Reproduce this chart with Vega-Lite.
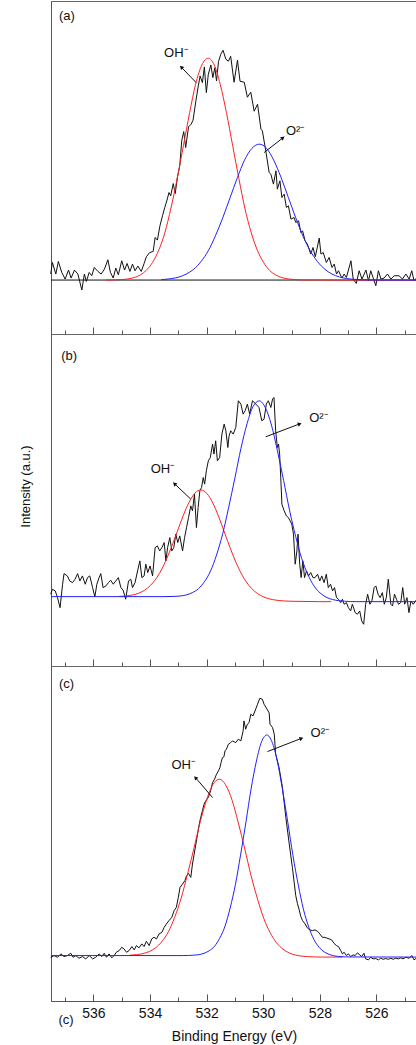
{
  "$schema": "https://vega.github.io/schema/vega-lite/v6.json",
  "background": "white",
  "padding": {"left": 18, "top": 0, "right": 0, "bottom": 2},
  "spacing": 0,
  "bounds": "flush",
  "config": {
    "view": {"stroke": "#666", "strokeWidth": 1},
    "font": "Liberation Sans",
    "axis": {"domainColor": "#555", "tickColor": "#555", "labelColor": "#111", "titleColor": "#111", "labelFont": "Liberation Sans", "titleFont": "Liberation Sans", "labelFontSize": 14, "titleFontSize": 14, "titleFontWeight": "normal", "grid": false},
    "text": {"font": "Liberation Sans", "fontSize": 13, "color": "#111"}
  },
  "datasets": {
    "a_exp": [
      {"energy":537.51,"intensity":6},{"energy":537.45,"intensity":17.6},{"energy":537.33,"intensity":6},{"energy":537.24,"intensity":18.6},{"energy":537.12,"intensity":7.6},{"energy":537.0,"intensity":1},{"energy":536.88,"intensity":10},{"energy":536.79,"intensity":2},{"energy":536.67,"intensity":10},{"energy":536.55,"intensity":6},{"energy":536.41,"intensity":-10},{"energy":536.32,"intensity":6},{"energy":536.25,"intensity":-1.4},{"energy":536.15,"intensity":7.6},{"energy":536.06,"intensity":4.3},{"energy":535.97,"intensity":12.6},{"energy":535.84,"intensity":8.6},{"energy":535.73,"intensity":6},{"energy":535.61,"intensity":11},{"energy":535.49,"intensity":20.3},{"energy":535.40,"intensity":7.6},{"energy":535.30,"intensity":2},{"energy":535.21,"intensity":12},{"energy":535.12,"intensity":5.3},{"energy":535.00,"intensity":19.3},{"energy":534.90,"intensity":10},{"energy":534.81,"intensity":16.6},{"energy":534.71,"intensity":8.6},{"energy":534.62,"intensity":16},{"energy":534.53,"intensity":9.3},{"energy":534.43,"intensity":14},{"energy":534.31,"intensity":8.6},{"energy":534.21,"intensity":16.6},{"energy":534.13,"intensity":23.3},{"energy":534.01,"intensity":27.6},{"energy":533.89,"intensity":28.6},{"energy":533.82,"intensity":42.6},{"energy":533.74,"intensity":40},{"energy":533.65,"intensity":54.3},{"energy":533.56,"intensity":64.3},{"energy":533.48,"intensity":72.6},{"energy":533.40,"intensity":80},{"energy":533.33,"intensity":87.6},{"energy":533.27,"intensity":84.3},{"energy":533.18,"intensity":96.6},{"energy":533.11,"intensity":86.6},{"energy":533.03,"intensity":103.3},{"energy":532.95,"intensity":114.3},{"energy":532.88,"intensity":139.3},{"energy":532.81,"intensity":148.6},{"energy":532.74,"intensity":132.6},{"energy":532.64,"intensity":153.3},{"energy":532.55,"intensity":156},{"energy":532.48,"intensity":160},{"energy":532.38,"intensity":179.3},{"energy":532.30,"intensity":193.3},{"energy":532.23,"intensity":204.3},{"energy":532.15,"intensity":197.6},{"energy":532.08,"intensity":213.3},{"energy":532.01,"intensity":187.6},{"energy":531.94,"intensity":206},{"energy":531.85,"intensity":215.3},{"energy":531.78,"intensity":202.6},{"energy":531.71,"intensity":212.6},{"energy":531.65,"intensity":199.3},{"energy":531.58,"intensity":218.6},{"energy":531.50,"intensity":226},{"energy":531.42,"intensity":230},{"energy":531.32,"intensity":221},{"energy":531.23,"intensity":219},{"energy":531.15,"intensity":224},{"energy":531.03,"intensity":198},{"energy":530.91,"intensity":220},{"energy":530.82,"intensity":199},{"energy":530.67,"intensity":198},{"energy":530.56,"intensity":183},{"energy":530.44,"intensity":188},{"energy":530.32,"intensity":169},{"energy":530.20,"intensity":176},{"energy":530.08,"intensity":151},{"energy":530.03,"intensity":149.3},{"energy":529.91,"intensity":129.3},{"energy":529.79,"intensity":107.6},{"energy":529.73,"intensity":106},{"energy":529.64,"intensity":96},{"energy":529.55,"intensity":109.3},{"energy":529.50,"intensity":91},{"energy":529.41,"intensity":99.3},{"energy":529.34,"intensity":82.6},{"energy":529.26,"intensity":86},{"energy":529.18,"intensity":72.6},{"energy":529.11,"intensity":74.3},{"energy":529.02,"intensity":61},{"energy":528.91,"intensity":62.6},{"energy":528.85,"intensity":57.6},{"energy":528.75,"intensity":59.3},{"energy":528.67,"intensity":47.6},{"energy":528.61,"intensity":49.3},{"energy":528.52,"intensity":39.3},{"energy":528.44,"intensity":36},{"energy":528.32,"intensity":26},{"energy":528.24,"intensity":32.6},{"energy":528.16,"intensity":23.3},{"energy":528.02,"intensity":42},{"energy":527.96,"intensity":26},{"energy":527.88,"intensity":27.6},{"energy":527.77,"intensity":17.6},{"energy":527.67,"intensity":22.6},{"energy":527.57,"intensity":12.6},{"energy":527.49,"intensity":16},{"energy":527.41,"intensity":6},{"energy":527.34,"intensity":9.3},{"energy":527.22,"intensity":2},{"energy":527.14,"intensity":6},{"energy":527.06,"intensity":2.6},{"energy":526.90,"intensity":19.3},{"energy":526.82,"intensity":1},{"energy":526.71,"intensity":-3.4},{"energy":526.61,"intensity":9.3},{"energy":526.51,"intensity":1},{"energy":526.37,"intensity":10},{"energy":526.28,"intensity":-0.7},{"energy":526.20,"intensity":9.3},{"energy":526.02,"intensity":-5.7},{"energy":525.93,"intensity":9.3},{"energy":525.84,"intensity":1},{"energy":525.73,"intensity":2},{"energy":525.61,"intensity":6},{"energy":525.49,"intensity":1},{"energy":525.37,"intensity":4.3},{"energy":525.20,"intensity":4.3},{"energy":525.08,"intensity":1},{"energy":524.96,"intensity":6},{"energy":524.84,"intensity":1},{"energy":524.75,"intensity":9.3},{"energy":524.67,"intensity":-0.7},{"energy":524.55,"intensity":3}
    ],
    "a_base": [{"energy":537.5,"intensity":0},{"energy":524.53,"intensity":0}],
    "a_oh": [
      {"energy":535.56,"intensity":0},{"energy":535.43,"intensity":0.1},{"energy":535.0,"intensity":0.5},{"energy":534.78,"intensity":1.1},{"energy":534.56,"intensity":2.5},{"energy":534.34,"intensity":5.1},{"energy":534.13,"intensity":9.8},{"energy":533.91,"intensity":17.7},{"energy":533.69,"intensity":30.0},{"energy":533.47,"intensity":48.0},{"energy":533.26,"intensity":72.1},{"energy":533.04,"intensity":101.6},{"energy":532.82,"intensity":134.6},{"energy":532.60,"intensity":167.6},{"energy":532.39,"intensity":195.9},{"energy":532.17,"intensity":215.2},{"energy":531.95,"intensity":222},{"energy":531.73,"intensity":215.2},{"energy":531.52,"intensity":195.9},{"energy":531.30,"intensity":167.6},{"energy":531.08,"intensity":134.6},{"energy":530.86,"intensity":101.6},{"energy":530.65,"intensity":72.1},{"energy":530.43,"intensity":48.0},{"energy":530.21,"intensity":30.0},{"energy":529.99,"intensity":17.7},{"energy":529.78,"intensity":9.8},{"energy":529.56,"intensity":5.1},{"energy":529.34,"intensity":2.5},{"energy":529.12,"intensity":1.1},{"energy":528.91,"intensity":0.5},{"energy":528.47,"intensity":0.1},{"energy":527.5,"intensity":0},{"energy":524.53,"intensity":0}
    ],
    "a_o2": [
      {"energy":533.6,"intensity":0.4},{"energy":533.49,"intensity":0.7},{"energy":533.23,"intensity":1.5},{"energy":532.97,"intensity":3.1},{"energy":532.72,"intensity":6.0},{"energy":532.46,"intensity":10.8},{"energy":532.20,"intensity":18.4},{"energy":531.94,"intensity":29.4},{"energy":531.69,"intensity":44.2},{"energy":531.43,"intensity":62.3},{"energy":531.17,"intensity":82.5},{"energy":530.91,"intensity":102.7},{"energy":530.66,"intensity":120.0},{"energy":530.40,"intensity":131.8},{"energy":530.14,"intensity":136},{"energy":529.88,"intensity":131.8},{"energy":529.63,"intensity":120.0},{"energy":529.37,"intensity":102.7},{"energy":529.11,"intensity":82.5},{"energy":528.85,"intensity":62.3},{"energy":528.60,"intensity":44.2},{"energy":528.34,"intensity":29.4},{"energy":528.08,"intensity":18.4},{"energy":527.82,"intensity":10.8},{"energy":527.57,"intensity":6.0},{"energy":527.31,"intensity":3.1},{"energy":527.05,"intensity":1.5},{"energy":526.79,"intensity":0.7},{"energy":526.54,"intensity":0.3},{"energy":526.02,"intensity":0},{"energy":524.53,"intensity":0}
    ],
    "a_notes": [
      {"label":"(a)","energy":536.94,"intensity":264.3},
      {"label":"OH⁻","energy":533.09,"intensity":227},
      {"label":"O²⁻","energy":528.87,"intensity":149.3}
    ],
    "a_arrows": [
      {"species":"OH","energy":532.88,"intensity":212.6,"energy2":532.37,"intensity2":197.6},
      {"species":"O2","energy":529.32,"intensity":142,"energy2":529.97,"intensity2":127.6}
    ],
    "b_exp": [
      {"energy":537.51,"intensity":2.4},{"energy":537.45,"intensity":7.4},{"energy":537.35,"intensity":5.7},{"energy":537.27,"intensity":-1.0},{"energy":537.18,"intensity":-11.0},{"energy":537.09,"intensity":12.4},{"energy":537.04,"intensity":23.0},{"energy":536.92,"intensity":20.7},{"energy":536.84,"intensity":15.7},{"energy":536.74,"intensity":14.0},{"energy":536.65,"intensity":17.4},{"energy":536.56,"intensity":23.0},{"energy":536.48,"intensity":15.7},{"energy":536.39,"intensity":20.7},{"energy":536.29,"intensity":12.4},{"energy":536.21,"intensity":19.0},{"energy":536.13,"intensity":20.7},{"energy":536.03,"intensity":9.0},{"energy":535.95,"intensity":-0.3},{"energy":535.88,"intensity":12.4},{"energy":535.80,"intensity":19.0},{"energy":535.74,"intensity":23.0},{"energy":535.66,"intensity":9.0},{"energy":535.56,"intensity":10.7},{"energy":535.47,"intensity":14.0},{"energy":535.39,"intensity":16.4},{"energy":535.30,"intensity":12.4},{"energy":535.21,"intensity":15.7},{"energy":535.12,"intensity":19.0},{"energy":535.03,"intensity":9.0},{"energy":534.95,"intensity":6.4},{"energy":534.86,"intensity":-2.6},{"energy":534.76,"intensity":15.7},{"energy":534.68,"intensity":17.4},{"energy":534.62,"intensity":9.0},{"energy":534.53,"intensity":14.0},{"energy":534.44,"intensity":25.7},{"energy":534.36,"intensity":35.7},{"energy":534.29,"intensity":19.0},{"energy":534.21,"intensity":20.7},{"energy":534.15,"intensity":32.4},{"energy":534.08,"intensity":24.0},{"energy":534.00,"intensity":30.7},{"energy":533.91,"intensity":20.7},{"energy":533.82,"intensity":49.0},{"energy":533.74,"intensity":50.7},{"energy":533.66,"intensity":45.7},{"energy":533.58,"intensity":49.0},{"energy":533.50,"intensity":54.0},{"energy":533.44,"intensity":35.7},{"energy":533.38,"intensity":49.0},{"energy":533.30,"intensity":59.0},{"energy":533.23,"intensity":45.7},{"energy":533.16,"intensity":49.0},{"energy":533.09,"intensity":62.4},{"energy":533.02,"intensity":54.0},{"energy":532.95,"intensity":60.7},{"energy":532.85,"intensity":45.7},{"energy":532.78,"intensity":59.0},{"energy":532.71,"intensity":69.0},{"energy":532.64,"intensity":79.0},{"energy":532.56,"intensity":90.7},{"energy":532.50,"intensity":85.7},{"energy":532.43,"intensity":102.4},{"energy":532.36,"intensity":69.0},{"energy":532.30,"intensity":89.0},{"energy":532.24,"intensity":105.7},{"energy":532.18,"intensity":109.0},{"energy":532.12,"intensity":119.0},{"energy":532.07,"intensity":112.4},{"energy":532.01,"intensity":125.7},{"energy":531.94,"intensity":135.7},{"energy":531.87,"intensity":139.0},{"energy":531.79,"intensity":152.4},{"energy":531.74,"intensity":142.4},{"energy":531.68,"intensity":155.7},{"energy":531.62,"intensity":135.7},{"energy":531.54,"intensity":139.0},{"energy":531.46,"intensity":162.4},{"energy":531.38,"intensity":172.4},{"energy":531.32,"intensity":165.7},{"energy":531.25,"intensity":149.0},{"energy":531.21,"intensity":160},{"energy":531.15,"intensity":165.7},{"energy":531.06,"intensity":162.4},{"energy":530.97,"intensity":169.0},{"energy":530.88,"intensity":195.7},{"energy":530.79,"intensity":192.4},{"energy":530.71,"intensity":182.4},{"energy":530.64,"intensity":185.7},{"energy":530.56,"intensity":192.4},{"energy":530.48,"intensity":182.4},{"energy":530.38,"intensity":195.7},{"energy":530.26,"intensity":192.4},{"energy":530.15,"intensity":189.0},{"energy":530.05,"intensity":175.7},{"energy":529.97,"intensity":177.4},{"energy":529.89,"intensity":192.4},{"energy":529.82,"intensity":195.7},{"energy":529.73,"intensity":189.0},{"energy":529.67,"intensity":197.4},{"energy":529.62,"intensity":199.0},{"energy":529.56,"intensity":165.7},{"energy":529.50,"intensity":149.0},{"energy":529.46,"intensity":152.4},{"energy":529.42,"intensity":142.4},{"energy":529.38,"intensity":119.0},{"energy":529.34,"intensity":92.4},{"energy":529.26,"intensity":85.7},{"energy":529.18,"intensity":80.7},{"energy":529.11,"intensity":79.0},{"energy":529.05,"intensity":75.7},{"energy":528.99,"intensity":72.4},{"energy":528.93,"intensity":62.4},{"energy":528.87,"intensity":32.4},{"energy":528.81,"intensity":45.7},{"energy":528.77,"intensity":62.4},{"energy":528.71,"intensity":32.4},{"energy":528.66,"intensity":19.0},{"energy":528.60,"intensity":35.7},{"energy":528.54,"intensity":19.0},{"energy":528.47,"intensity":25.7},{"energy":528.40,"intensity":20.7},{"energy":528.32,"intensity":24.0},{"energy":528.24,"intensity":19.0},{"energy":528.17,"intensity":19.0},{"energy":528.08,"intensity":22.4},{"energy":528.00,"intensity":15.7},{"energy":527.93,"intensity":20.7},{"energy":527.85,"intensity":14.0},{"energy":527.77,"intensity":22.4},{"energy":527.70,"intensity":9.0},{"energy":527.62,"intensity":12.4},{"energy":527.55,"intensity":5.7},{"energy":527.48,"intensity":9.0},{"energy":527.41,"intensity":-1.0},{"energy":527.34,"intensity":-2.6},{"energy":527.26,"intensity":-6.0},{"energy":527.20,"intensity":-2.6},{"energy":527.14,"intensity":-7.6},{"energy":527.06,"intensity":-6.0},{"energy":526.99,"intensity":-11.0},{"energy":526.91,"intensity":-14.3},{"energy":526.85,"intensity":-7.6},{"energy":526.75,"intensity":-16.0},{"energy":526.67,"intensity":-17.6},{"energy":526.59,"intensity":-14.3},{"energy":526.52,"intensity":-24.3},{"energy":526.45,"intensity":-27.6},{"energy":526.38,"intensity":-7.6},{"energy":526.31,"intensity":2.4},{"energy":526.23,"intensity":-7.6},{"energy":526.16,"intensity":-4.3},{"energy":526.08,"intensity":9.0},{"energy":526.02,"intensity":10.7},{"energy":525.94,"intensity":2.4},{"energy":525.87,"intensity":-1.0},{"energy":525.79,"intensity":4.0},{"energy":525.72,"intensity":-7.6},{"energy":525.65,"intensity":-1.0},{"energy":525.58,"intensity":17.4},{"energy":525.49,"intensity":-7.6},{"energy":525.43,"intensity":-9.3},{"energy":525.36,"intensity":2.4},{"energy":525.29,"intensity":-2.6},{"energy":525.22,"intensity":-7.6},{"energy":525.14,"intensity":-6.0},{"energy":525.07,"intensity":9.0},{"energy":525.00,"intensity":-7.6},{"energy":524.92,"intensity":-1.0},{"energy":524.85,"intensity":-16.0},{"energy":524.78,"intensity":-4.3},{"energy":524.70,"intensity":-7.6},{"energy":524.58,"intensity":-3}
    ],
    "b_oh": [
      {"energy":535.09,"intensity":0.3},{"energy":534.93,"intensity":0.5},{"energy":534.72,"intensity":1.2},{"energy":534.51,"intensity":2.4},{"energy":534.30,"intensity":4.7},{"energy":534.09,"intensity":8.5},{"energy":533.88,"intensity":14.5},{"energy":533.67,"intensity":23.1},{"energy":533.46,"intensity":34.8},{"energy":533.25,"intensity":49.0},{"energy":533.04,"intensity":64.8},{"energy":532.83,"intensity":80.7},{"energy":532.62,"intensity":94.3},{"energy":532.41,"intensity":103.5},{"energy":532.20,"intensity":106.6},{"energy":531.99,"intensity":103.0},{"energy":531.78,"intensity":93.5},{"energy":531.57,"intensity":79.6},{"energy":531.36,"intensity":63.4},{"energy":531.15,"intensity":47.3},{"energy":530.94,"intensity":32.7},{"energy":530.73,"intensity":20.7},{"energy":530.52,"intensity":11.7},{"energy":530.31,"intensity":5.4},{"energy":530.10,"intensity":1.3},{"energy":529.89,"intensity":-1.3},{"energy":529.68,"intensity":-2.9},{"energy":529.26,"intensity":-4.3},{"energy":528.84,"intensity":-4.7},{"energy":528.0,"intensity":-5.0},{"energy":527.6,"intensity":-5.0}
    ],
    "b_o2": [
      {"energy":537.5,"intensity":0},{"energy":533.58,"intensity":0},{"energy":533.15,"intensity":0.2},{"energy":532.94,"intensity":0.6},{"energy":532.72,"intensity":1.7},{"energy":532.51,"intensity":3.9},{"energy":532.29,"intensity":7.9},{"energy":532.08,"intensity":14.8},{"energy":531.86,"intensity":25.7},{"energy":531.65,"intensity":41.6},{"energy":531.43,"intensity":63.0},{"energy":531.22,"intensity":89.3},{"energy":531.00,"intensity":118.6},{"energy":530.79,"intensity":147.8},{"energy":530.57,"intensity":172.9},{"energy":530.36,"intensity":189.9},{"energy":530.14,"intensity":195.6},{"energy":529.93,"intensity":189.1},{"energy":529.71,"intensity":171.5},{"energy":529.50,"intensity":145.9},{"energy":529.28,"intensity":116.2},{"energy":529.07,"intensity":86.4},{"energy":528.85,"intensity":59.8},{"energy":528.64,"intensity":38.1},{"energy":528.42,"intensity":22.0},{"energy":528.21,"intensity":10.8},{"energy":527.99,"intensity":3.7},{"energy":527.78,"intensity":-0.5},{"energy":527.56,"intensity":-2.8},{"energy":527.35,"intensity":-4.0},{"energy":527.13,"intensity":-4.6},{"energy":526.70,"intensity":-5.0},{"energy":524.53,"intensity":-5.0}
    ],
    "b_notes": [
      {"label":"(b)","energy":536.86,"intensity":240},
      {"label":"OH⁻","energy":533.56,"intensity":127.4},
      {"label":"O²⁻","energy":528.05,"intensity":178.4}
    ],
    "b_arrows": [
      {"species":"OH","energy":533.12,"intensity":112.4,"energy2":532.56,"intensity2":97.4},
      {"species":"O2","energy":528.73,"intensity":172.4,"energy2":529.91,"intensity2":159.7}
    ],
    "c_exp": [
      {"energy":537.51,"intensity":-1.7},{"energy":537.39,"intensity":0},{"energy":537.27,"intensity":-1.7},{"energy":537.15,"intensity":1.7},{"energy":537.04,"intensity":-1.0},{"energy":536.92,"intensity":0},{"energy":536.80,"intensity":2.3},{"energy":536.72,"intensity":-1.7},{"energy":536.62,"intensity":0},{"energy":536.51,"intensity":-2.7},{"energy":536.39,"intensity":-1.0},{"energy":536.27,"intensity":-3.3},{"energy":536.15,"intensity":0},{"energy":536.03,"intensity":-3.3},{"energy":535.92,"intensity":-1.7},{"energy":535.80,"intensity":1.7},{"energy":535.70,"intensity":-1.0},{"energy":535.62,"intensity":2.3},{"energy":535.54,"intensity":-1.7},{"energy":535.45,"intensity":1.7},{"energy":535.35,"intensity":-2.3},{"energy":535.27,"intensity":0},{"energy":535.19,"intensity":3.3},{"energy":535.09,"intensity":5.0},{"energy":535.00,"intensity":8.3},{"energy":534.92,"intensity":6.7},{"energy":534.83,"intensity":3.3},{"energy":534.74,"intensity":5.0},{"energy":534.64,"intensity":9.0},{"energy":534.56,"intensity":5.7},{"energy":534.48,"intensity":10.0},{"energy":534.39,"intensity":7.7},{"energy":534.29,"intensity":11.7},{"energy":534.21,"intensity":9.0},{"energy":534.13,"intensity":14.3},{"energy":534.03,"intensity":10.0},{"energy":533.94,"intensity":16.7},{"energy":533.86,"intensity":18.3},{"energy":533.77,"intensity":16.7},{"energy":533.68,"intensity":21.7},{"energy":533.58,"intensity":23.3},{"energy":533.50,"intensity":28.3},{"energy":533.42,"intensity":31.7},{"energy":533.33,"intensity":35.0},{"energy":533.23,"intensity":38.3},{"energy":533.15,"intensity":45.0},{"energy":533.07,"intensity":48.3},{"energy":533.00,"intensity":58.3},{"energy":532.94,"intensity":68.3},{"energy":532.85,"intensity":71.7},{"energy":532.77,"intensity":75.0},{"energy":532.71,"intensity":80.0},{"energy":532.64,"intensity":82.3},{"energy":532.56,"intensity":78.3},{"energy":532.50,"intensity":91.7},{"energy":532.44,"intensity":101.7},{"energy":532.38,"intensity":111.7},{"energy":532.32,"intensity":121.7},{"energy":532.26,"intensity":131.7},{"energy":532.21,"intensity":138.3},{"energy":532.15,"intensity":145.0},{"energy":532.09,"intensity":151.7},{"energy":532.03,"intensity":155.0},{"energy":531.94,"intensity":158.3},{"energy":531.86,"intensity":165.0},{"energy":531.79,"intensity":173.3},{"energy":531.72,"intensity":176.7},{"energy":531.65,"intensity":181.7},{"energy":531.58,"intensity":185.0},{"energy":531.53,"intensity":188.3},{"energy":531.49,"intensity":193.3},{"energy":531.44,"intensity":198.3},{"energy":531.39,"intensity":199.0},{"energy":531.35,"intensity":205.0},{"energy":531.30,"intensity":206.7},{"energy":531.23,"intensity":211.7},{"energy":531.15,"intensity":213.3},{"energy":531.09,"intensity":215.0},{"energy":530.97,"intensity":213.3},{"energy":530.88,"intensity":216.7},{"energy":530.79,"intensity":215.0},{"energy":530.71,"intensity":225.0},{"energy":530.68,"intensity":235.0},{"energy":530.62,"intensity":226.7},{"energy":530.56,"intensity":231.7},{"energy":530.50,"intensity":233.3},{"energy":530.44,"intensity":241.7},{"energy":530.36,"intensity":240.0},{"energy":530.29,"intensity":245.0},{"energy":530.20,"intensity":251.7},{"energy":530.12,"intensity":257.7},{"energy":530.03,"intensity":256.7},{"energy":529.97,"intensity":251.7},{"energy":529.89,"intensity":248},{"energy":529.79,"intensity":243},{"energy":529.76,"intensity":231.7},{"energy":529.67,"intensity":228.3},{"energy":529.61,"intensity":221.7},{"energy":529.56,"intensity":201.7},{"energy":529.44,"intensity":188.3},{"energy":529.32,"intensity":168.3},{"energy":529.20,"intensity":138.3},{"energy":529.08,"intensity":111.7},{"energy":528.97,"intensity":88.3},{"energy":528.85,"intensity":60},{"energy":528.79,"intensity":52},{"energy":528.73,"intensity":46},{"energy":528.67,"intensity":39},{"energy":528.61,"intensity":35},{"energy":528.52,"intensity":31.7},{"energy":528.44,"intensity":27.7},{"energy":528.35,"intensity":25.7},{"energy":528.26,"intensity":25.0},{"energy":528.17,"intensity":25.7},{"energy":528.08,"intensity":24.3},{"energy":528.00,"intensity":21.7},{"energy":527.91,"intensity":18.3},{"energy":527.85,"intensity":18.3},{"energy":527.77,"intensity":17.7},{"energy":527.67,"intensity":16.7},{"energy":527.58,"intensity":15.7},{"energy":527.50,"intensity":12.3},{"energy":527.41,"intensity":10.0},{"energy":527.34,"intensity":9.0},{"energy":527.26,"intensity":5.0},{"energy":527.20,"intensity":1.7},{"energy":527.14,"intensity":3.3},{"energy":527.06,"intensity":0},{"energy":526.99,"intensity":1.7},{"energy":526.91,"intensity":-1.0},{"energy":526.82,"intensity":0.7},{"energy":526.75,"intensity":0},{"energy":526.67,"intensity":2.7},{"energy":526.59,"intensity":0.7},{"energy":526.52,"intensity":-1.0},{"energy":526.44,"intensity":2.3},{"energy":526.38,"intensity":-3.3},{"energy":526.28,"intensity":-4.3},{"energy":526.20,"intensity":-1.7},{"energy":526.12,"intensity":-3.3},{"energy":526.02,"intensity":-3.0},{"energy":525.93,"intensity":-4.3},{"energy":525.85,"intensity":-2.7},{"energy":525.76,"intensity":-3.7},{"energy":525.67,"intensity":-3.0},{"energy":525.58,"intensity":-3.7},{"energy":525.49,"intensity":-2.7},{"energy":525.41,"intensity":-3.7},{"energy":525.32,"intensity":-2.7},{"energy":525.22,"intensity":-3.3},{"energy":525.14,"intensity":-2.3},{"energy":525.06,"intensity":-3.3},{"energy":524.96,"intensity":-1.7},{"energy":524.84,"intensity":-2.7},{"energy":524.75,"intensity":0},{"energy":524.67,"intensity":-4.3},{"energy":524.56,"intensity":-2}
    ],
    "c_oh": [
      {"energy":534.74,"intensity":0},{"energy":534.70,"intensity":0.4},{"energy":534.48,"intensity":0.9},{"energy":534.25,"intensity":2.0},{"energy":534.03,"intensity":4.0},{"energy":533.80,"intensity":7.8},{"energy":533.58,"intensity":14.1},{"energy":533.35,"intensity":23.9},{"energy":533.13,"intensity":38.3},{"energy":532.90,"intensity":57.5},{"energy":532.68,"intensity":81.0},{"energy":532.45,"intensity":107.3},{"energy":532.23,"intensity":133.4},{"energy":532.00,"intensity":156.0},{"energy":531.78,"intensity":171.2},{"energy":531.55,"intensity":176.6},{"energy":531.33,"intensity":171.0},{"energy":531.10,"intensity":155.6},{"energy":530.88,"intensity":132.9},{"energy":530.65,"intensity":106.6},{"energy":530.43,"intensity":80.1},{"energy":530.20,"intensity":56.5},{"energy":529.98,"intensity":37.2},{"energy":529.75,"intensity":22.7},{"energy":529.53,"intensity":12.8},{"energy":529.30,"intensity":6.4},{"energy":529.08,"intensity":2.6},{"energy":528.85,"intensity":0.5},{"energy":528.63,"intensity":-0.6},{"energy":528.40,"intensity":-1.1},{"energy":527.95,"intensity":-1.5},{"energy":527.2,"intensity":-1.5}
    ],
    "c_o2": [
      {"energy":537.5,"intensity":0},{"energy":532.83,"intensity":0},{"energy":532.46,"intensity":0.4},{"energy":532.28,"intensity":0.9},{"energy":532.09,"intensity":2.3},{"energy":531.91,"intensity":4.8},{"energy":531.72,"intensity":9.4},{"energy":531.54,"intensity":17.3},{"energy":531.35,"intensity":29.5},{"energy":531.17,"intensity":47.5},{"energy":530.98,"intensity":71.5},{"energy":530.80,"intensity":100.9},{"energy":530.61,"intensity":133.8},{"energy":530.43,"intensity":166.7},{"energy":530.24,"intensity":194.9},{"energy":530.06,"intensity":214.1},{"energy":529.87,"intensity":220.9},{"energy":529.69,"intensity":214.0},{"energy":529.50,"intensity":194.6},{"energy":529.32,"intensity":166.3},{"energy":529.13,"intensity":133.2},{"energy":528.95,"intensity":100.2},{"energy":528.76,"intensity":70.6},{"energy":528.58,"intensity":46.5},{"energy":528.39,"intensity":28.5},{"energy":528.21,"intensity":16.2},{"energy":528.02,"intensity":8.2},{"energy":527.84,"intensity":3.6},{"energy":527.65,"intensity":1.0},{"energy":527.47,"intensity":-0.4},{"energy":527.28,"intensity":-1.0},{"energy":526.91,"intensity":-1.4},{"energy":524.53,"intensity":-1.5}
    ],
    "c_notes": [
      {"label":"(c)","energy":536.95,"intensity":271.7},
      {"label":"OH⁻","energy":532.83,"intensity":191},
      {"label":"O²⁻","energy":528.0,"intensity":223.3},
      {"label":"(c)","energy":536.97,"intensity":-64.3}
    ],
    "c_arrows": [
      {"species":"OH","energy":532.38,"intensity":177.7,"energy2":531.79,"intensity2":158.3},
      {"species":"O2","energy":528.67,"intensity":217.3,"energy2":529.85,"intensity2":204.3}
    ]
  },
  "vconcat": [
    {
      "width": 367, "height": 333,
      "encoding": {
        "x": {"field": "energy", "type": "quantitative", "scale": {"domain": [537.5, 524.53], "nice": false, "zero": false},
              "axis": {"values": [537,536,535,534,533,532,531,530,529,528,527,526,525], "labels": false, "title": null, "tickSize": {"condition": {"test": "datum.value % 2 === 0", "value": -7}, "value": -4}}},
        "y": {"field": "intensity", "type": "quantitative", "scale": {"domain": [-54, 279.3], "nice": false, "zero": false},
              "axis": {"title": null, "labels": false, "ticks": false}}
      },
      "layer": [
        {"data": {"name": "a_base"}, "mark": {"type": "line", "color": "#111", "strokeWidth": 1}},
        {"data": {"name": "a_exp"}, "mark": {"type": "line", "color": "#111", "strokeWidth": 1}},
        {"data": {"name": "a_oh"}, "mark": {"type": "line", "color": "#ff2020", "strokeWidth": 1, "interpolate": "monotone"}},
        {"data": {"name": "a_o2"}, "mark": {"type": "line", "color": "#2020ff", "strokeWidth": 1, "interpolate": "monotone"}},
        {"data": {"name": "a_arrows"}, "mark": {"type": "rule", "color": "#111", "strokeWidth": 1},
         "encoding": {"x2": {"field": "energy2"}, "y2": {"field": "intensity2"}}},
        {"data": {"name": "a_arrows"}, "transform": [{"filter": "datum.species === 'OH'"}],
         "mark": {"type": "point", "shape": "triangle", "filled": true, "size": 20, "angle": 316, "color": "#111", "opacity": 1}},
        {"data": {"name": "a_arrows"}, "transform": [{"filter": "datum.species === 'O2'"}],
         "mark": {"type": "point", "shape": "triangle", "filled": true, "size": 20, "angle": 52, "color": "#111", "opacity": 1}},
        {"data": {"name": "a_notes"}, "mark": {"type": "text", "align": "center", "baseline": "middle"},
         "encoding": {"text": {"field": "label"}}}
      ]
    },
    {
      "width": 367, "height": 332,
      "encoding": {
        "x": {"field": "energy", "type": "quantitative", "scale": {"domain": [537.5, 524.53], "nice": false, "zero": false},
              "axis": {"values": [537,536,535,534,533,532,531,530,529,528,527,526,525], "labels": false, "title": null, "tickSize": {"condition": {"test": "datum.value % 2 === 0", "value": -7}, "value": -4}}},
        "y": {"field": "intensity", "type": "quantitative", "scale": {"domain": [-69.3, 262.4], "nice": false, "zero": false},
              "axis": {"title": "Intensity (a.u.)", "titleFontSize": 13, "labels": false, "ticks": false, "titlePadding": 19, "titleY": 152}}
      },
      "layer": [
        {"data": {"name": "b_exp"}, "mark": {"type": "line", "color": "#111", "strokeWidth": 1}},
        {"data": {"name": "b_oh"}, "mark": {"type": "line", "color": "#ff2020", "strokeWidth": 1, "interpolate": "monotone"}},
        {"data": {"name": "b_o2"}, "mark": {"type": "line", "color": "#2020ff", "strokeWidth": 1, "interpolate": "monotone"}},
        {"data": {"name": "b_arrows"}, "mark": {"type": "rule", "color": "#111", "strokeWidth": 1},
         "encoding": {"x2": {"field": "energy2"}, "y2": {"field": "intensity2"}}},
        {"data": {"name": "b_arrows"}, "transform": [{"filter": "datum.species === 'OH'"}],
         "mark": {"type": "point", "shape": "triangle", "filled": true, "size": 20, "angle": 313, "color": "#111", "opacity": 1}},
        {"data": {"name": "b_arrows"}, "transform": [{"filter": "datum.species === 'O2'"}],
         "mark": {"type": "point", "shape": "triangle", "filled": true, "size": 20, "angle": 69, "color": "#111", "opacity": 1}},
        {"data": {"name": "b_notes"}, "mark": {"type": "text", "align": "center", "baseline": "middle"},
         "encoding": {"text": {"field": "label"}}}
      ]
    },
    {
      "width": 367, "height": 335,
      "encoding": {
        "x": {"field": "energy", "type": "quantitative", "scale": {"domain": [537.5, 524.53], "nice": false, "zero": false},
              "axis": {"values": [537,536,535,534,533,532,531,530,529,528,527,526,525], "format": "d", "labelExpr": "datum.value % 2 === 0 ? datum.label : ''", "labelOverlap": false, "labelFlush": false, "labelPadding": 12, "title": "Binding Energy (eV)", "titlePadding": 6, "titleX": 183, "tickSize": {"condition": {"test": "datum.value % 2 === 0", "value": -7}, "value": -4}}},
        "y": {"field": "intensity", "type": "quantitative", "scale": {"domain": [-45.5, 290], "nice": false, "zero": false},
              "axis": {"title": null, "labels": false, "ticks": false}}
      },
      "layer": [
        {"data": {"name": "c_exp"}, "mark": {"type": "line", "color": "#111", "strokeWidth": 1}},
        {"data": {"name": "c_oh"}, "mark": {"type": "line", "color": "#ff2020", "strokeWidth": 1, "interpolate": "monotone"}},
        {"data": {"name": "c_o2"}, "mark": {"type": "line", "color": "#2020ff", "strokeWidth": 1, "interpolate": "monotone"}},
        {"data": {"name": "c_arrows"}, "mark": {"type": "rule", "color": "#111", "strokeWidth": 1},
         "encoding": {"x2": {"field": "energy2"}, "y2": {"field": "intensity2"}}},
        {"data": {"name": "c_arrows"}, "transform": [{"filter": "datum.species === 'OH'"}],
         "mark": {"type": "point", "shape": "triangle", "filled": true, "size": 20, "angle": 319, "color": "#111", "opacity": 1}},
        {"data": {"name": "c_arrows"}, "transform": [{"filter": "datum.species === 'O2'"}],
         "mark": {"type": "point", "shape": "triangle", "filled": true, "size": 20, "angle": 69, "color": "#111", "opacity": 1}},
        {"data": {"name": "c_notes"}, "mark": {"type": "text", "align": "center", "baseline": "middle"},
         "encoding": {"text": {"field": "label"}}}
      ]
    }
  ]
}
